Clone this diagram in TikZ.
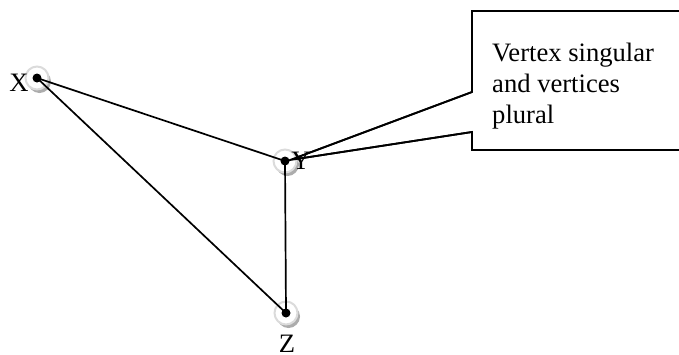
\documentclass[tikz,border=0pt]{standalone}
\usepackage{fontspec}
\setmainfont{Liberation Serif}
\usetikzlibrary{shadows}
\begin{document}
\begin{tikzpicture}[x=1pt,y=-1pt,
  vertex/.style={circle, minimum size=23pt, inner sep=0pt, fill=white, draw=gray!28, line width=2pt,
    drop shadow={shadow xshift=2.5pt, shadow yshift=-3.5pt, fill=gray!65, opacity=1},
    path picture={\fill[black] (path picture bounding box.center) circle (4.5pt);}},
  edge/.style={line width=1.7pt, black},
  lab/.style={inner sep=0pt, font=\fontsize{26.6}{31}\selectfont},
  callout/.style={line width=1.8pt, draw=black, fill=white}]
\useasboundingbox (0,0) rectangle (679,354);
% callout box
\coordinate (ctip) at (290,160);
\path[callout] (700,11) -- (472,11) -- (472,92) -- (ctip) -- (472,132) -- (472,150) -- (700,150);
\node[lab, anchor=north west, align=left] (txt) at (492,43) {Vertex singular\\and vertices\\plural};
% vertices
\node[vertex] (X) at (37,78) {};
\node[vertex] (Y) at (285,161) {};
\node[vertex] (Z) at (286,313) {};
\node[lab] (lx) at (19,83) {X};
\node[lab] (lz) at (287,344) {Z};
% edges
\draw[edge] (X.center) -- (Y.center);
\draw[edge] (X.center) -- (Z.center);
\draw[edge] (Y.center) -- (Z.center);
\node[lab] (ly) at (301,161) {Y};
\draw[line width=1.8pt] (472,92) -- (ctip) -- (472,132);
\end{tikzpicture}
\end{document}
